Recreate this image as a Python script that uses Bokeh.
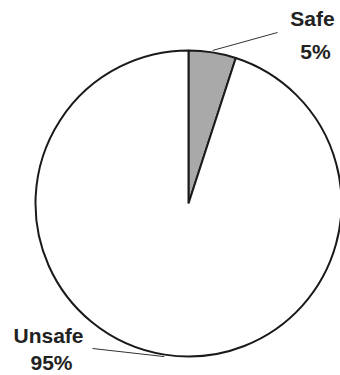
import numpy as np
from bokeh.plotting import figure
from bokeh.models import Range1d, ColumnDataSource
from bokeh.core.properties import value
from bokeh.embed import file_html
from bokeh.resources import INLINE

# ---- data ----
categories = ["Safe", "Unsafe"]
shares = [5, 95]
pct_labels = ["5%", "95%"]
colors = ["#a9a9a9", "#ffffff"]

W, H = 340, 375
CX, CY, R = 188, H - 203, 153

frac = np.array(shares, dtype=float) / sum(shares)
cum = np.concatenate([[0], np.cumsum(frac)])
start = np.pi / 2 - cum[:-1] * 2 * np.pi
end = np.pi / 2 - cum[1:] * 2 * np.pi
mid = (start + end) / 2

p = figure(width=W, height=H, x_range=Range1d(0, W), y_range=Range1d(0, H),
           output_backend="svg", toolbar_location=None, min_border=0)
p.axis.visible = False
p.grid.visible = False
p.outline_line_color = None
p.background_fill_color = "white"
p.border_fill_color = "white"

src = ColumnDataSource(dict(start=start, end=end, color=colors, cat=categories))
p.wedge(x=CX, y=CY, radius=R, start_angle="start", end_angle="end",
        direction="clock", fill_color="color", line_color="#1a1a1a",
        line_width=2, source=src)

# leader lines: from slice mid-arc to label anchor
anchors = [(277, H - 32), (92, H - 348)]
for m, (ax, ay) in zip(mid, anchors):
    sx = CX + (R + 2) * np.cos(m)
    sy = CY + (R + 2) * np.sin(m)
    p.line([sx, ax], [sy, ay], line_color="#333333", line_width=1)

# labels (positions are vertical centres)
name_pos = [(312, H - 18), (48, H - 335)]
pct_pos = [(315, H - 51), (51, H - 362)]
font = value("Liberation Sans")
p.text(x=[q[0] for q in name_pos], y=[q[1] for q in name_pos], text=categories,
       text_font=font, text_font_style="bold", text_font_size="21px",
       text_color="#222222", text_align="center", text_baseline="middle")
p.text(x=[q[0] for q in pct_pos], y=[q[1] for q in pct_pos], text=pct_labels,
       text_font=font, text_font_style="bold", text_font_size="21px",
       text_color="#222222", text_align="center", text_baseline="middle")

open("out.html", "w").write(file_html(p, INLINE))
